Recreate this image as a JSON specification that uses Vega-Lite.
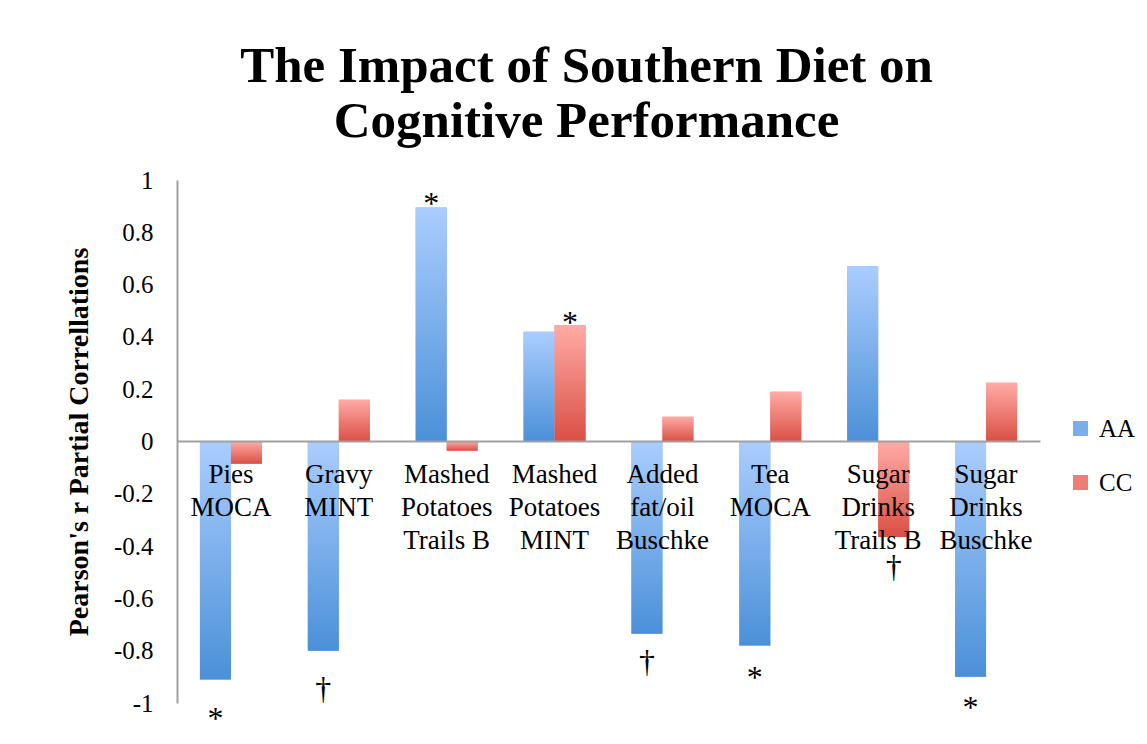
{
  "$schema": "https://vega.github.io/schema/vega-lite/v6.json",
  "width": 863,
  "height": 523,
  "autosize": {"type": "none"},
  "padding": {"left": 177, "top": 180, "right": 107, "bottom": 41},
  "background": "white",
  "config": {
    "view": {"stroke": null},
    "font": "Liberation Serif"
  },
  "title": {
    "text": ["The Impact of Southern Diet on", "Cognitive Performance"],
    "font": "Liberation Serif",
    "fontSize": 51,
    "fontWeight": "bold",
    "lineHeight": 55,
    "color": "#000000",
    "anchor": "middle",
    "dx": -22,
    "offset": 20
  },
  "datasets": {
    "bars": [
      {"category": "Pies\nMOCA", "group": "AA", "value": -0.91},
      {"category": "Pies\nMOCA", "group": "CC", "value": -0.085},
      {"category": "Gravy\nMINT", "group": "AA", "value": -0.80},
      {"category": "Gravy\nMINT", "group": "CC", "value": 0.16},
      {"category": "Mashed\nPotatoes\nTrails B", "group": "AA", "value": 0.895},
      {"category": "Mashed\nPotatoes\nTrails B", "group": "CC", "value": -0.035},
      {"category": "Mashed\nPotatoes\nMINT", "group": "AA", "value": 0.42},
      {"category": "Mashed\nPotatoes\nMINT", "group": "CC", "value": 0.445},
      {"category": "Added\nfat/oil\nBuschke", "group": "AA", "value": -0.735},
      {"category": "Added\nfat/oil\nBuschke", "group": "CC", "value": 0.095},
      {"category": "Tea\nMOCA", "group": "AA", "value": -0.78},
      {"category": "Tea\nMOCA", "group": "CC", "value": 0.19},
      {"category": "Sugar\nDrinks\nTrails B", "group": "AA", "value": 0.67},
      {"category": "Sugar\nDrinks\nTrails B", "group": "CC", "value": -0.365},
      {"category": "Sugar\nDrinks\nBuschke", "group": "AA", "value": -0.90},
      {"category": "Sugar\nDrinks\nBuschke", "group": "CC", "value": 0.225}
    ],
    "notes": [
      {"category": "Pies\nMOCA", "group": "AA", "symbol": "*", "pos": -1.06},
      {"category": "Gravy\nMINT", "group": "AA", "symbol": "†", "pos": -0.945},
      {"category": "Mashed\nPotatoes\nTrails B", "group": "AA", "symbol": "*", "pos": 0.91},
      {"category": "Mashed\nPotatoes\nMINT", "group": "CC", "symbol": "*", "pos": 0.455},
      {"category": "Added\nfat/oil\nBuschke", "group": "AA", "symbol": "†", "pos": -0.845},
      {"category": "Tea\nMOCA", "group": "AA", "symbol": "*", "pos": -0.905},
      {"category": "Sugar\nDrinks\nTrails B", "group": "CC", "symbol": "†", "pos": -0.48},
      {"category": "Sugar\nDrinks\nBuschke", "group": "AA", "symbol": "*", "pos": -1.02}
    ]
  },
  "encoding": {
    "x": {
      "field": "category",
      "type": "nominal",
      "sort": null,
      "scale": {"paddingInner": 0.425, "paddingOuter": 0.2125},
      "axis": {
        "title": null,
        "orient": "bottom",
        "offset": -262,
        "zindex": 1,
        "domainColor": "#a0a0a0",
        "domainWidth": 2,
        "ticks": false,
        "labelAngle": 0,
        "labelFont": "Liberation Serif",
        "labelFontSize": 27,
        "labelColor": "#000000",
        "labelLineHeight": 33,
        "labelPadding": 20,
        "labelBaseline": "top",
        "labelExpr": "split(datum.value, '\\n')"
      }
    },
    "xOffset": {"field": "group", "type": "nominal", "scale": {"domain": ["AA", "CC"]}}
  },
  "layer": [
    {
      "data": {"name": "bars"},
      "mark": {"type": "bar"},
      "encoding": {
        "y": {
          "field": "value",
          "type": "quantitative",
          "scale": {"domain": [-1, 1], "nice": false, "zero": true},
          "axis": {
            "title": "Pearson's r Partial Correllations",
            "titleFont": "Liberation Serif",
            "titleFontSize": 28,
            "titleFontWeight": "bold",
            "titleColor": "#000000",
            "titlePadding": 20,
            "values": [-1, -0.8, -0.6, -0.4, -0.2, 0, 0.2, 0.4, 0.6, 0.8, 1],
            "labelExpr": "replace(format(datum.value, '.1~f'), '−', '-')",
            "labelFont": "Liberation Serif",
            "labelFontSize": 25,
            "labelColor": "#000000",
            "labelPadding": 24,
            "ticks": false,
            "grid": false,
            "domainColor": "#a0a0a0",
            "domainWidth": 2
          }
        },
        "color": {
          "field": "group",
          "type": "nominal",
          "scale": {"domain": ["AA", "CC"], "range": ["#7aaeeb", "#ee7d75"]},
          "legend": {
            "title": null,
            "orient": "none",
            "legendX": 891,
            "legendY": 236,
            "symbolType": "square",
            "symbolSize": 225,
            "symbolStrokeWidth": 0,
            "labelFont": "Liberation Serif",
            "labelFontSize": 25,
            "labelColor": "#000000",
            "labelOffset": 6,
            "rowPadding": 28,
            "symbolOpacity": 1,
            "encode": {
              "symbols": {
                "enter": {
                  "fill": [
                    {"test": "datum.value === 'AA'", "value": {"gradient": "linear", "x1": 0, "y1": 0, "x2": 0, "y2": 1, "stops": [{"offset": 0, "color": "#aacdfe"}, {"offset": 1, "color": "#4b90d8"}]}},
                    {"value": {"gradient": "linear", "x1": 0, "y1": 0, "x2": 0, "y2": 1, "stops": [{"offset": 0, "color": "#ffaba6"}, {"offset": 1, "color": "#da4f44"}]}}
                  ]
                },
                "update": {
                  "fill": [
                    {"test": "datum.value === 'AA'", "value": {"gradient": "linear", "x1": 0, "y1": 0, "x2": 0, "y2": 1, "stops": [{"offset": 0, "color": "#aacdfe"}, {"offset": 1, "color": "#4b90d8"}]}},
                    {"value": {"gradient": "linear", "x1": 0, "y1": 0, "x2": 0, "y2": 1, "stops": [{"offset": 0, "color": "#ffaba6"}, {"offset": 1, "color": "#da4f44"}]}}
                  ]
                }
              }
            }
          }
        }
      }
    },
    {
      "data": {"name": "bars"},
      "mark": {"type": "bar"},
      "encoding": {
        "y": {"field": "value", "type": "quantitative"},
        "fill": {
          "condition": {"test": "datum.group === 'AA'", "value": {"gradient": "linear", "x1": 0, "y1": 0, "x2": 0, "y2": 1, "stops": [{"offset": 0, "color": "#aacdfe"}, {"offset": 1, "color": "#4b90d8"}]}},
          "value": {"gradient": "linear", "x1": 0, "y1": 0, "x2": 0, "y2": 1, "stops": [{"offset": 0, "color": "#ffaba6"}, {"offset": 1, "color": "#da4f44"}]}
        }
      }
    },
    {
      "data": {"name": "notes"},
      "mark": {"type": "text", "font": "Liberation Serif", "fontSize": 32, "color": "#000000", "baseline": "middle", "align": "center", "clip": false},
      "encoding": {
        "y": {"field": "pos", "type": "quantitative"},
        "text": {"field": "symbol"}
      }
    }
  ]
}
